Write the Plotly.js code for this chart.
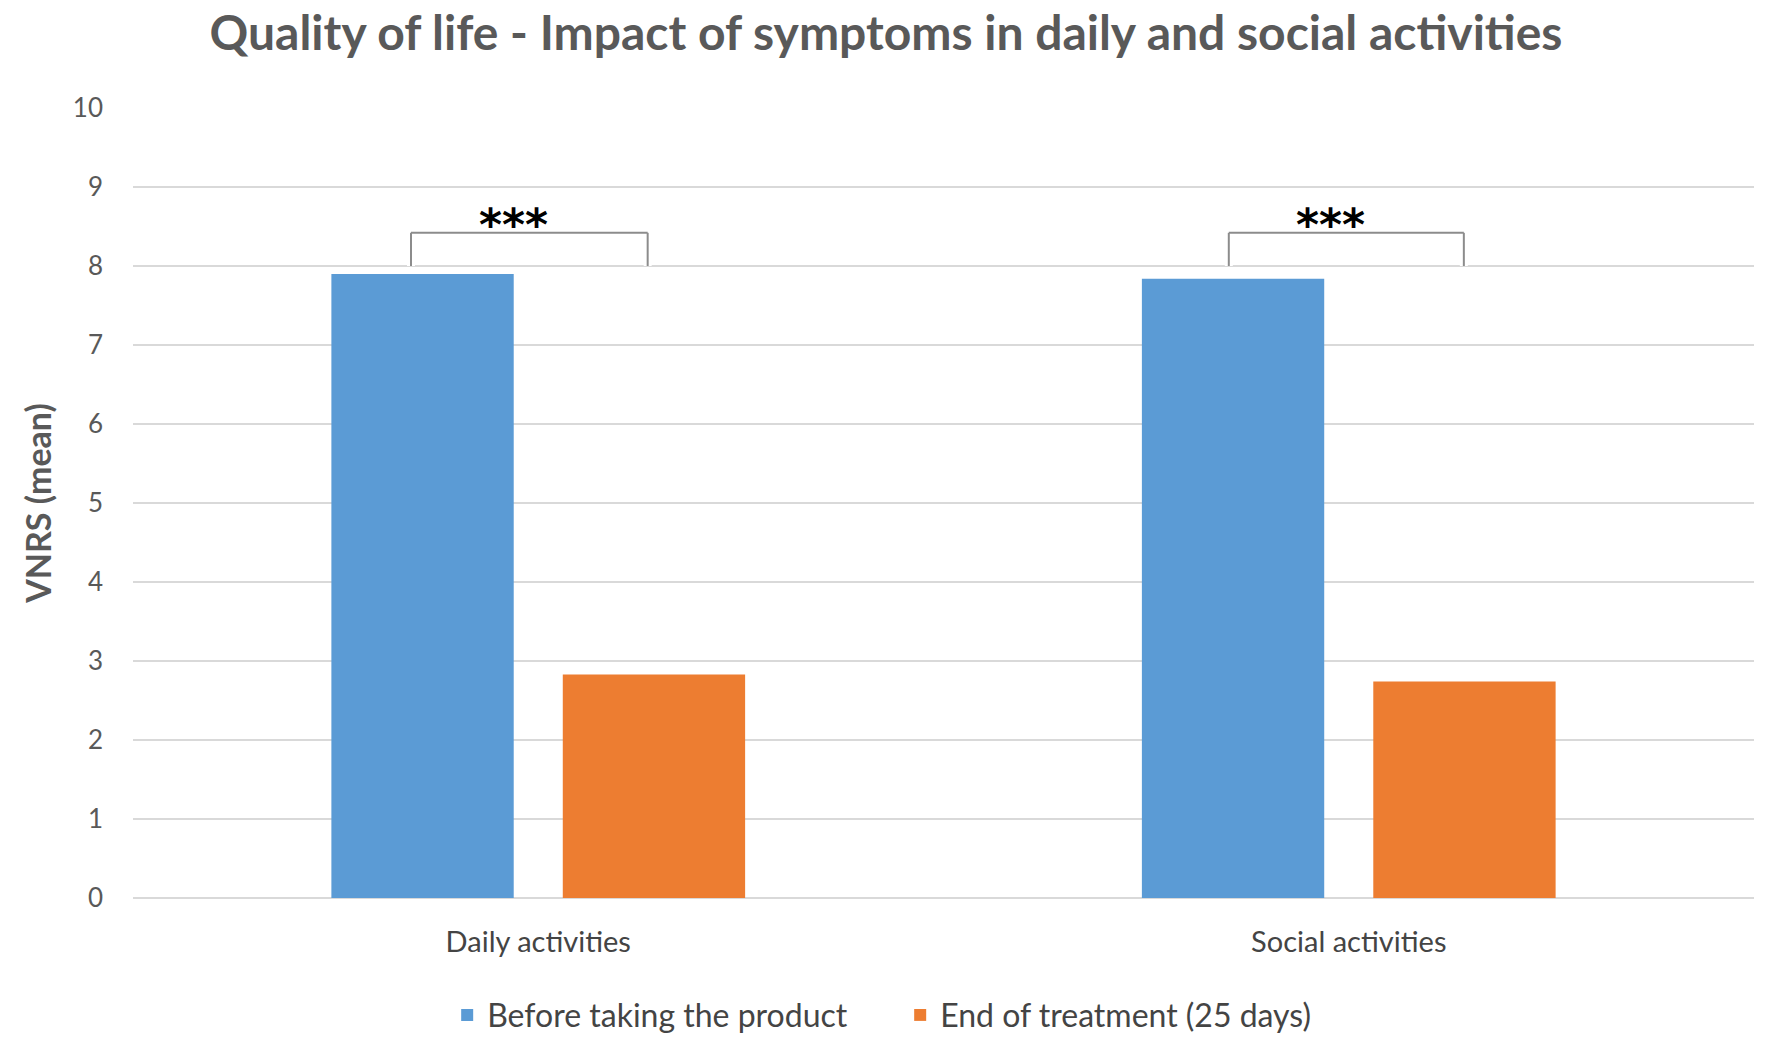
<!DOCTYPE html>
<html>
<head>
<meta charset="utf-8">
<script src="https://cdn.plot.ly/plotly-3.0.1.min.js"></script>
<style>
  html, body { margin: 0; padding: 0; background: #fff; }
  #qolChart { width: 1772px; height: 1039px; }
</style>
</head>
<body>
<div id="qolChart"></div>
<script>
// values
var categories = ['Daily activities', 'Social activities'];
var beforeValues = [7.9, 7.84];
var endValues = [2.83, 2.74];
var seriesNames = ['Before taking the product', 'End of treatment (25 days)'];
var yTicks = [0, 1, 2, 3, 4, 5, 6, 7, 8, 9, 10];

// significance brackets, one per category (x as category index)
var bracketLeft = [-0.157, 0.852];
var bracketRight = [0.135, 1.142];
var bracketBase = [8.0, 8.0];
var bracketTop = [8.42, 8.42];
var bracketLabel = ['***', '***'];

var grey = '#595959';
var darkGrey = '#444444';
var font = 'Lato, "Open Sans", sans-serif';

function makePlot() {
  var trace1 = {
    x: categories,
    y: beforeValues,
    name: seriesNames[0],
    type: 'bar',
    marker: { color: '#5B9BD5' },
    hoverinfo: 'y'
  };
  var trace2 = {
    x: categories,
    y: endValues,
    name: seriesNames[1],
    type: 'bar',
    marker: { color: '#ED7D31' },
    hoverinfo: 'y'
  };

  var shapes = [];
  var annotations = [];
  for (var i = 0; i < categories.length; i++) {
    var l = bracketLeft[i], r = bracketRight[i];
    var b = bracketBase[i], t = bracketTop[i];
    // white halo first, so the gridline breaks around the legs
    [['#ffffff', 8], ['#8c8c8c', 2]].forEach(function (st) {
      shapes.push({ type: 'line', xref: 'x', yref: 'y', x0: l, x1: l, y0: b, y1: t, line: { color: st[0], width: st[1] } });
      shapes.push({ type: 'line', xref: 'x', yref: 'y', x0: r, x1: r, y0: b, y1: t, line: { color: st[0], width: st[1] } });
      shapes.push({ type: 'line', xref: 'x', yref: 'y', x0: l, x1: r, y0: t, y1: t, line: { color: st[0], width: st[1] } });
    });
    annotations.push({
      x: (l + r) / 2 - 0.02,
      y: t,
      xref: 'x',
      yref: 'y',
      yanchor: 'bottom',
      yshift: -19,
      text: bracketLabel[i],
      showarrow: false,
      font: { family: '"DejaVu Sans", sans-serif', size: 44, color: '#000000', weight: 'bold' }
    });
  }

  var layout = {
    width: 1772,
    height: 1039,
    paper_bgcolor: '#ffffff',
    plot_bgcolor: '#ffffff',
    margin: { l: 133, r: 18, t: 108, b: 141 },
    font: { family: font, color: grey },
    title: {
      text: '<b>Quality of life - Impact of symptoms in daily and social activities</b>',
      font: { family: font, size: 48, color: grey },
      xref: 'container',
      x: 0.5,
      xanchor: 'center',
      yref: 'container',
      y: 0.968,
      yanchor: 'middle'
    },
    barmode: 'group',
    bargap: 0.429,
    bargroupgap: 0.212,
    xaxis: {
      type: 'category',
      showgrid: false,
      showline: false,
      zeroline: false,
      ticks: '',
      ticklabelstandoff: 24,
      tickfont: { family: font, size: 29, color: darkGrey }
    },
    yaxis: {
      range: [0, 10],
      tickvals: yTicks,
      showgrid: true,
      gridcolor: '#d9d9d9',
      gridwidth: 2,
      zeroline: true,
      zerolinecolor: '#d9d9d9',
      zerolinewidth: 2,
      showline: false,
      ticks: '',
      ticklabelstandoff: 29,
      tickfont: { family: font, size: 26, color: grey },
      title: {
        text: '<b>VNRS (mean)</b>',
        font: { family: font, size: 34, color: grey },
        standoff: 10
      }
    },
    showlegend: true,
    legend: {
      orientation: 'h',
      xref: 'container',
      yref: 'container',
      x: 0.508,
      xanchor: 'center',
      y: 0.023,
      yanchor: 'middle',
      entrywidth: 408,
      entrywidthmode: 'pixels',
      font: { family: font, size: 32, color: darkGrey },
      traceorder: 'normal'
    },
    shapes: shapes,
    annotations: annotations
  };

  Plotly.newPlot('qolChart', [trace1, trace2], layout, { displayModeBar: false, staticPlot: true });
}

makePlot();
</script>
</body>
</html>
